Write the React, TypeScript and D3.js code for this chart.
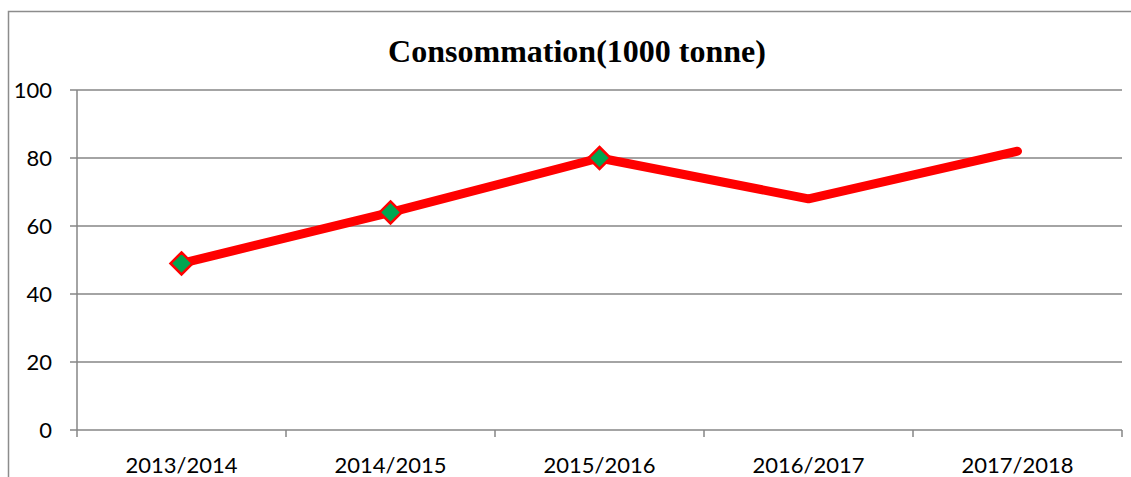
import React, { useEffect, useRef } from 'react'
import * as d3 from 'd3'

const seasons = ['2013/2014', '2014/2015', '2015/2016', '2016/2017', '2017/2018']
const consumption = [49, 64, 80, 68, 82]
const markedCount = 3
const yTicks = [0, 20, 40, 60, 80, 100]

export default function App() {
  const svgRef = useRef<SVGSVGElement>(null)

  useEffect(() => {
    const width = 1131, height = 477
    const m = { top: 90, right: 9, bottom: 47, left: 77 }
    const svg = d3.select(svgRef.current)
    svg.selectAll('*').remove()

    // chart frame (extends off page on right and bottom)
    svg.append('path').attr('d', `M8.5,${height + 5}V11.5H${width + 5}`)
      .attr('fill', 'none').attr('stroke', '#8c8c8c').attr('stroke-width', 1.5)

    svg.append('text').attr('x', 577).attr('y', 62).attr('text-anchor', 'middle')
      .attr('font-family', '"Liberation Serif", "Times New Roman", serif')
      .attr('font-weight', 'bold').attr('font-size', 32).attr('fill', '#000')
      .text('Consommation(1000 tonne)')

    const x = d3.scaleBand().domain(seasons).range([m.left, width - m.right])
    const y = d3.scaleLinear().domain([0, 100]).range([height - m.bottom, m.top])
    const font = 'Lato, "Open Sans", sans-serif'
    const grey = '#868686'

    // gridlines
    svg.append('g').selectAll('line').data(yTicks).join('line')
      .attr('x1', m.left - 7).attr('x2', width - m.right)
      .attr('y1', d => y(d)).attr('y2', d => y(d))
      .attr('stroke', grey).attr('stroke-width', 1.5)

    // y axis line
    svg.append('line').attr('x1', m.left).attr('x2', m.left).attr('y1', m.top).attr('y2', y(0))
      .attr('stroke', grey).attr('stroke-width', 1.5)

    // x ticks at category boundaries
    const bounds = seasons.map(s => x(s) as number).concat([width - m.right])
    svg.append('g').selectAll('line').data(bounds).join('line')
      .attr('x1', d => d).attr('x2', d => d).attr('y1', y(0)).attr('y2', y(0) + 7)
      .attr('stroke', grey).attr('stroke-width', 1.5)

    svg.append('g').selectAll('text').data(yTicks).join('text')
      .attr('x', 52).attr('y', d => y(d) + 8).attr('text-anchor', 'end')
      .attr('font-family', font).attr('font-size', 22).attr('fill', '#000')
      .text(d => d)

    svg.append('g').selectAll('text').data(seasons).join('text')
      .attr('x', d => (x(d) as number) + x.bandwidth() / 2).attr('y', 473).attr('text-anchor', 'middle')
      .attr('font-family', font).attr('font-size', 22).attr('fill', '#000')
      .text(d => d)

    const pts = seasons.map((s, i) => [(x(s) as number) + x.bandwidth() / 2, y(consumption[i])] as [number, number])
    svg.append('path').attr('d', d3.line()(pts))
      .attr('fill', 'none').attr('stroke', '#ff0000').attr('stroke-width', 9)
      .attr('stroke-linejoin', 'round').attr('stroke-linecap', 'round')

    const r = 11
    svg.append('g').selectAll('path').data(pts.slice(0, markedCount)).join('path')
      .attr('d', `M0,${-r}L${r},0L0,${r}L${-r},0Z`)
      .attr('transform', d => `translate(${d[0]},${d[1]})`)
      .attr('fill', '#00a651').attr('stroke', '#ff0000').attr('stroke-width', 2.5)
  }, [])

  return (
    <div style={{ position: 'absolute', left: 0, top: 0 }}>
      <svg ref={svgRef} width={1131} height={477} style={{ display: 'block' }} />
    </div>
  )
}
